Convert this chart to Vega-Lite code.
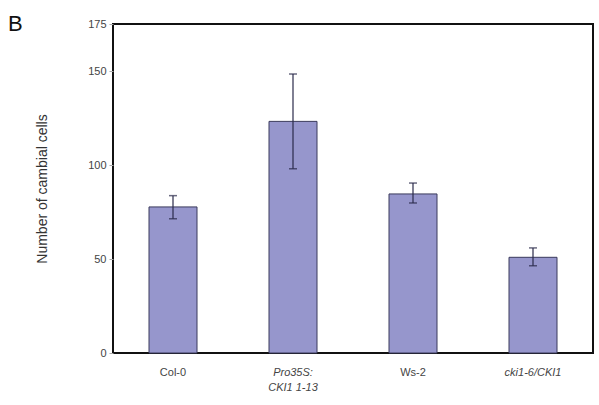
{
  "$schema": "https://vega.github.io/schema/vega-lite/v6.json",
  "autosize": {"type": "none"},
  "padding": {"left": 113, "top": 24, "right": 6, "bottom": 52},
  "width": 480,
  "height": 329,
  "title": {"text": "B", "anchor": "start", "frame": "group", "dx": -105, "dy": 22, "fontSize": 22, "fontWeight": "normal", "font": "Liberation Sans", "color": "#111"},
  "config": {
    "view": {"stroke": "#111", "strokeWidth": 2},
    "font": "Liberation Sans"
  },
  "data": {"values": [
    {"genotype": "Col-0", "mean": 77.7, "lo": 71.4, "hi": 83.7},
    {"genotype": "Pro35S: CKI1 1-13", "mean": 123.2, "lo": 98.0, "hi": 148.4},
    {"genotype": "Ws-2", "mean": 84.6, "lo": 79.8, "hi": 90.4},
    {"genotype": "cki1-6/CKI1", "mean": 50.9, "lo": 46.4, "hi": 55.9}
  ]},
  "encoding": {
    "x": {
      "field": "genotype", "type": "nominal", "sort": null,
      "scale": {"paddingInner": 0.6, "paddingOuter": 0.3},
      "axis": {
        "title": null, "labelAngle": 0, "domain": false, "ticks": false,
        "labelFontSize": 11, "labelColor": "#444", "labelPadding": 13,
        "labelLineHeight": 15,
        "labelExpr": "datum.value == 'Pro35S: CKI1 1-13' ? ['Pro35S:', 'CKI1 1-13'] : datum.value",
        "labelFontStyle": {"condition": {"test": "datum.value == 'Pro35S: CKI1 1-13' || datum.value == 'cki1-6/CKI1'", "value": "italic"}, "value": "normal"}
      }
    }
  },
  "layer": [
    {
      "mark": {"type": "bar", "fill": "#9696cc", "stroke": "#3a3a5c", "strokeWidth": 1},
      "encoding": {
        "y": {
          "field": "mean", "type": "quantitative",
          "scale": {"domain": [0, 175], "nice": false},
          "axis": {
            "values": [0, 50, 100, 150, 175], "grid": false, "domain": false,
            "tickColor": "#aaa", "tickSize": 4, "labelFontSize": 11, "labelColor": "#444",
            "labelPadding": 3,
            "title": "Number of cambial cells", "titleFontSize": 14, "titleFontWeight": "normal",
            "titleColor": "#333", "titlePadding": 38
          }
        }
      }
    },
    {
      "mark": {"type": "rule", "color": "#2a2a4a", "strokeWidth": 1.2},
      "encoding": {"y": {"field": "lo", "type": "quantitative"}, "y2": {"field": "hi"}}
    },
    {
      "mark": {"type": "tick", "color": "#2a2a4a", "size": 8, "thickness": 1.5},
      "encoding": {"y": {"field": "hi", "type": "quantitative"}}
    },
    {
      "mark": {"type": "tick", "color": "#2a2a4a", "size": 8, "thickness": 1.5},
      "encoding": {"y": {"field": "lo", "type": "quantitative"}}
    }
  ]
}
